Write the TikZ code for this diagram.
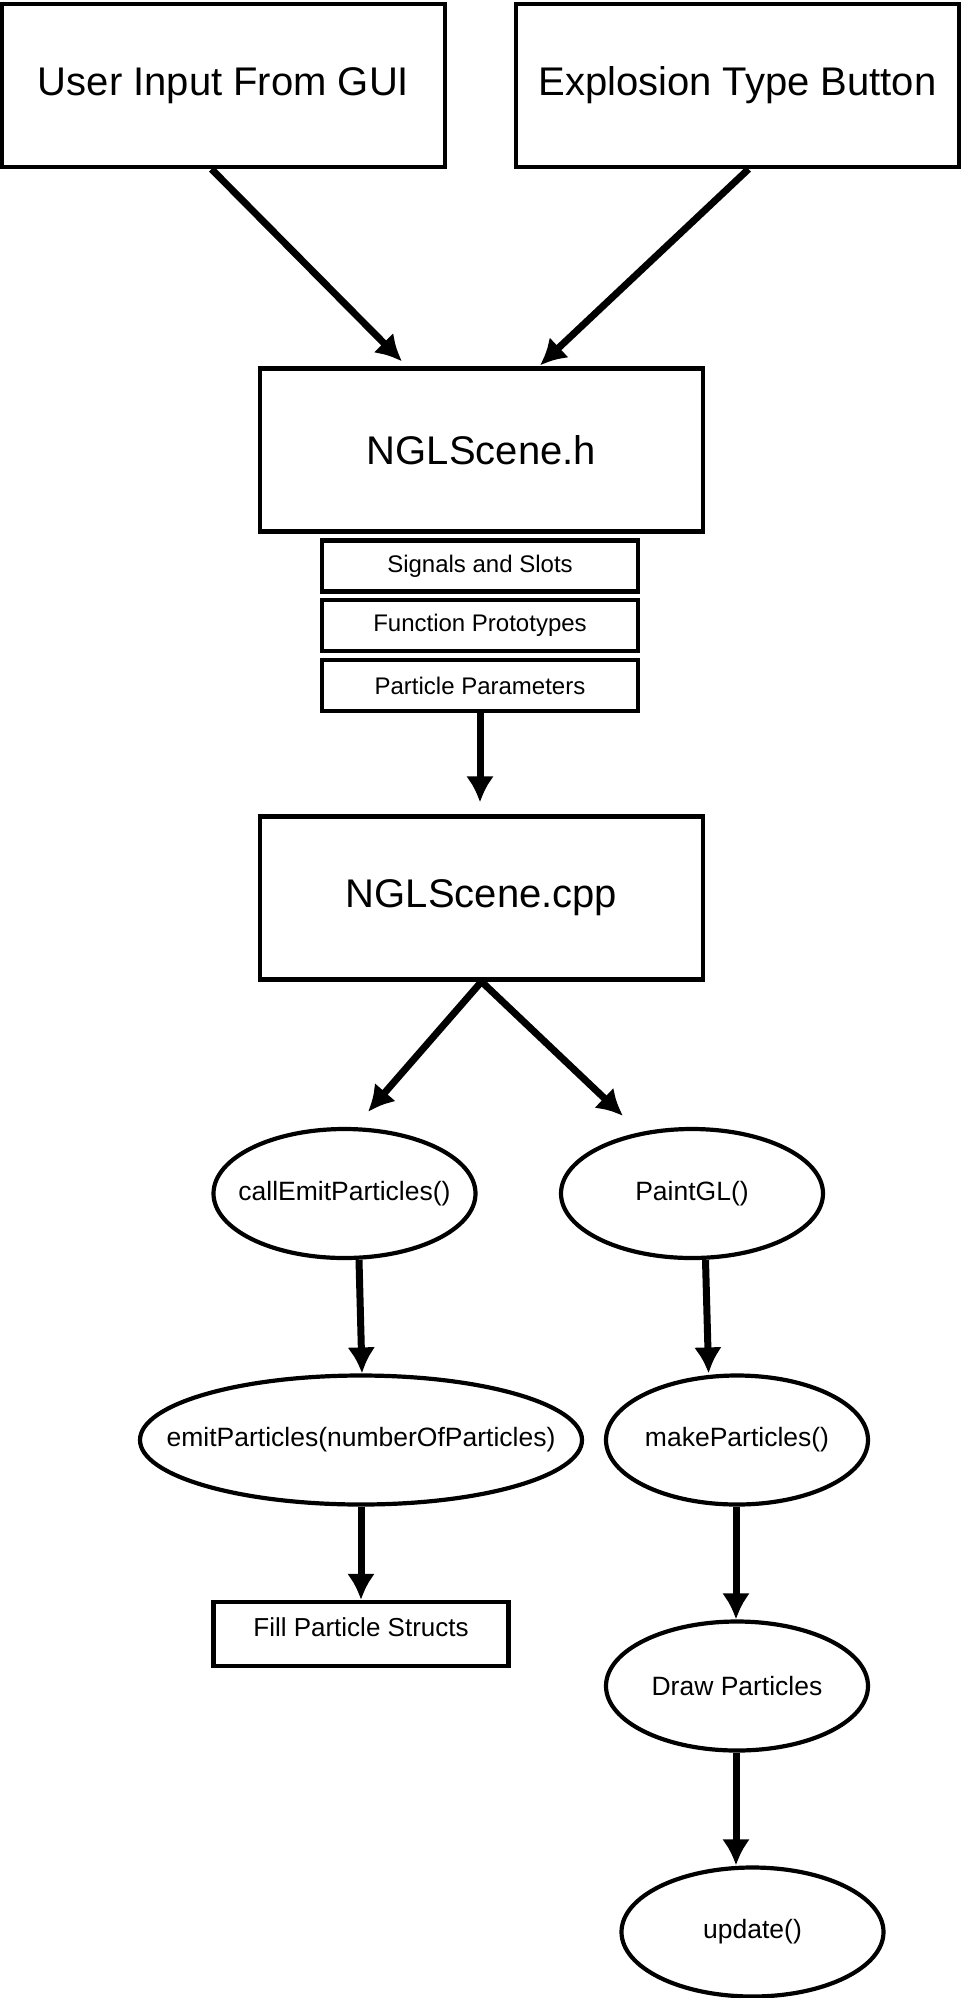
\documentclass[tikz,border=0pt]{standalone}
\usepackage{fontspec}
\setmainfont{Liberation Sans}
\usetikzlibrary{shapes.geometric,arrows.meta}
\newcommand\zw[1]{\makebox[0pt]{#1}}
\begin{document}
\begin{tikzpicture}[x=1pt,y=-1pt,
  bigbox/.style={draw,line width=4.2pt,minimum width=443pt,minimum height=163pt,inner sep=0pt,font=\fontsize{40}{48}\selectfont},
  subbox/.style={draw,line width=4.2pt,minimum width=316pt,minimum height=51pt,inner sep=0pt,font=\fontsize{24}{29}\selectfont},
  oval/.style={draw,ellipse,line width=4.2pt,minimum width=262pt,minimum height=129pt,inner sep=0pt,font=\fontsize{26.5}{32}\selectfont},
  conn/.style={line width=7pt,-{Latex[length=26pt,width=28pt]}}
]
\useasboundingbox (0,0) rectangle (962,1998);

\node[bigbox] (gui) at (223.5,85.5) {User Input From GUI};
\node[bigbox] (exp) at (737.5,85.5) {Explosion Type Button};
\node[bigbox] (nh) at (481.5,450) {NGLScene.h};
\node[subbox] (sig) at (480,566) {Signals and Slots};
\node[subbox] (fun) at (480,625.5) {Function Prototypes};
\node[subbox] (par) at (480,685.5) {Particle Parameters};
\node[bigbox] (ncpp) at (481.5,898) {NGLScene.cpp};
\node[oval] (call) at (344.5,1193.5) {\zw{callEmitParticles()}};
\node[oval] (paint) at (692,1193.5) {\zw{PaintGL()}};
\node[oval,minimum width=442pt] (emit) at (361,1440) {\zw{emitParticles(numberOfParticles)}};
\node[oval] (make) at (737,1440) {\zw{makeParticles()}};
\node[subbox,minimum width=295pt,minimum height=64pt,font=\fontsize{26}{31}\selectfont,text depth=14pt] (fill) at (361,1634) {Fill Particle Structs};
\node[oval] (drawp) at (737,1686) {\zw{Draw Particles}};
\node[oval] (upd) at (752.5,1932) {\zw{update()}};

\draw[conn] ([xshift=-12pt]gui.south) -- ([xshift=-79.5pt,yshift=5pt]nh.north);
\draw[conn] ([xshift=11pt]exp.south) -- ([xshift=58.5pt,yshift=1pt]nh.north);
\draw[conn] (par.south) -- ([xshift=-1.5pt,yshift=12pt]ncpp.north);
\draw[conn] (ncpp.south) -- ([xshift=23.5pt,yshift=15pt]call.north);
\draw[conn] (ncpp.south) -- ([xshift=-69pt,yshift=11pt]paint.north);
\draw[conn] ([xshift=14.5pt]call.south) -- ([xshift=1pt]emit.north);
\draw[conn] ([xshift=13.5pt]paint.south) -- ([xshift=-28.4pt]make.north);
\draw[conn] (emit.south) -- (fill.north);
\draw[conn] ([xshift=-1pt]make.south) -- ([xshift=-1pt]drawp.north);
\draw[conn] ([xshift=-1pt]drawp.south) -- ([xshift=-16.5pt]upd.north);
\end{tikzpicture}
\end{document}
